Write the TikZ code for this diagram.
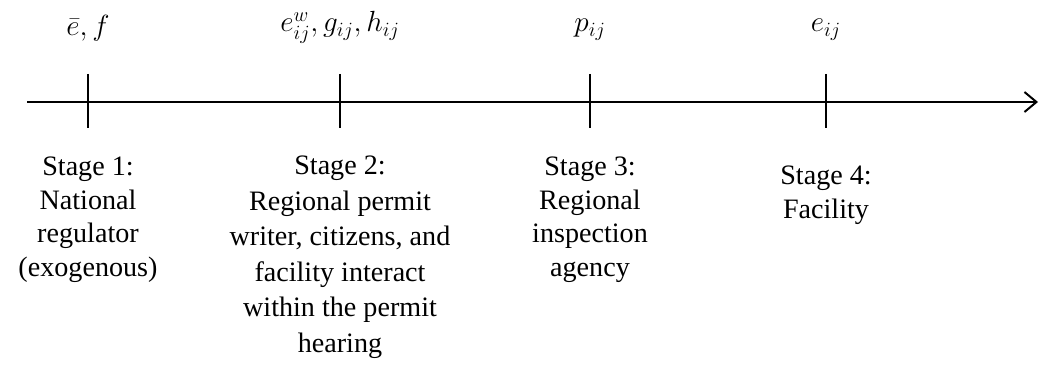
\documentclass[tikz,border=0pt]{standalone}
\usepackage{fontspec}
\setmainfont{Liberation Serif}
\usetikzlibrary{arrows.meta}
\begin{document}
\begin{tikzpicture}[x=0.025cm, y=-0.025cm, axis/.style={line width=1.4pt}, stage/.style={align=center, anchor=north, inner sep=0pt, font=\fontsize{20}{23.8}\selectfont}, param/.style={anchor=base, inner sep=0pt, font=\fontsize{20}{24}\selectfont}]
	\useasboundingbox (0,0) rectangle (1040,367);
	\coordinate (start) at (27,102);
	\coordinate (end) at (1038,102);
	\draw[axis, -{Straight Barb[length=3mm, width=5mm]}] (start) -- (end);
	\foreach \n/\x in {1/88, 2/340, 3/590, 4/826} {
		\coordinate (t\n) at (\x,102);
		\draw[axis] (\x,74) -- (\x,128);
	}
	\node[param] (p1) at (88,36) {$\bar{e}, f$};
	\node[param] (p2) at (340,32) {$e_{ij}^{w}, g_{ij}, h_{ij}$};
	\node[param] (p3) at (590,32) {$p_{ij}$};
	\node[param] (p4) at (826,32) {$e_{ij}$};
	\node[stage] (s1) at (88,157) {Stage 1:\\National\\regulator\\(exogenous)};
	\node[stage, font=\fontsize{20}{25.2}\selectfont] (s2) at (340,156) {Stage 2:\\Regional permit\\writer, citizens, and\\facility interact\\within the permit\\hearing};
	\node[stage] (s3) at (590,157) {Stage 3:\\Regional\\inspection\\agency};
	\node[stage] (s4) at (826,166) {Stage 4:\\Facility};
\end{tikzpicture}
\end{document}
